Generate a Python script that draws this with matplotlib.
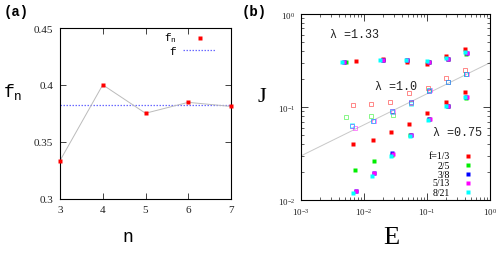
import matplotlib
matplotlib.use("Agg")
import matplotlib.pyplot as plt
from matplotlib.ticker import LogLocator, NullFormatter, FixedLocator

plt.rcParams['font.family'] = ['Liberation Serif', 'DejaVu Serif']
plt.rcParams['mathtext.fontset'] = 'custom'
plt.rcParams['mathtext.it'] = 'Liberation Mono'
plt.rcParams['mathtext.rm'] = 'Liberation Serif'

# ---------------- panel (a) data ----------------
n_vals = [3, 4, 5, 6, 7]
fn_vals = [0.3333, 0.4000, 0.3750, 0.3846, 0.3810]
f_limit = 0.382

# ---------------- panel (b) data ----------------
f_labels = ["f=1/3", "2/5", "3/8", "5/13", "8/21"]
f_colors = ["#ff0000", "#00ee00", "#0000ff", "#ff00ff", "#00ffff"]

# lambda = 1.33 (filled squares, top band)
E133 = [
    [0.0075, 0.0197, 0.0484, 0.101, 0.201, 0.397],
    [0.0051, 0.0197, 0.0484, 0.109, 0.219, 0.422],
    [0.00486, 0.0197, 0.0484, 0.109, 0.219, 0.432],
    [0.00486, 0.0197, 0.0484, 0.109, 0.219, 0.432],
    [0.00452, 0.0179, 0.0456, 0.0982, 0.203, 0.397],
]
J133 = [
    [0.316, 0.326, 0.305, 0.290, 0.350, 0.420],
    [0.303, 0.318, 0.318, 0.303, 0.329, 0.369],
    [0.308, 0.318, 0.318, 0.303, 0.329, 0.381],
    [0.308, 0.318, 0.318, 0.303, 0.329, 0.381],
    [0.308, 0.318, 0.324, 0.310, 0.334, 0.388],
]

# lambda = 1.0 (open squares, middle band)
E10 = [
    [0.00675, 0.0127, 0.0261, 0.0515, 0.1042, 0.203, 0.397],
    [0.00517, 0.0127, 0.0284, 0.0567, 0.1081, 0.216, 0.422],
    [0.00635, 0.01384, 0.0277, 0.0567, 0.1081, 0.216, 0.422],
    [0.0071, 0.01435, 0.0284, 0.0567, 0.110, 0.219, 0.432],
    [0.00635, 0.01384, 0.0277, 0.0553, 0.1081, 0.214, 0.422],
]
J10 = [
    [0.1064, 0.108, 0.1146, 0.142, 0.159, 0.206, 0.251],
    [0.0791, 0.0811, 0.0817, 0.110, 0.152, 0.186, 0.228],
    [0.0633, 0.0716, 0.0902, 0.1127, 0.1503, 0.188, 0.229],
    [0.0603, 0.0711, 0.088, 0.111, 0.153, 0.186, 0.227],
    [0.0640, 0.0716, 0.089, 0.107, 0.152, 0.186, 0.229],
]

# lambda = 0.75 (filled squares, lower band)
E075 = [
    [0.00675, 0.01368, 0.0267, 0.0527, 0.1016, 0.203, 0.397],
    [0.00717, 0.0142, 0.028, 0.054, 0.107, 0.213, 0.422],
    [0.0074, 0.0143, 0.028, 0.0553, 0.107, 0.216, 0.422],
    [0.00735, 0.01435, 0.0284, 0.0567, 0.110, 0.219, 0.432],
    [0.0068, 0.01352, 0.0264, 0.0534, 0.103, 0.203, 0.397],
]
J075 = [
    [0.0399, 0.0445, 0.0541, 0.0665, 0.0866, 0.1146, 0.1466],
    [0.0210, 0.0262, 0.031, 0.050, 0.074, 0.103, 0.125],
    [0.0127, 0.0195, 0.0319, 0.0507, 0.0746, 0.1038, 0.1297],
    [0.0127, 0.0195, 0.0312, 0.0503, 0.074, 0.102, 0.128],
    [0.0121, 0.0181, 0.0299, 0.0491, 0.0728, 0.1038, 0.1297],
]

line_E = [1e-3, 1.0]
line_J = [0.03, 0.30]

lam_texts = ["\u03bb =1.33", "\u03bb =1.0", "\u03bb =0.75"]
lam_pos = [(0.0029, 0.61), (0.015, 0.17), (0.124, 0.054)]

fig = plt.figure(figsize=(4.98, 2.55), dpi=100)

# ---------------- panel (a) ----------------
axa = fig.add_axes([60/498, 1-199.5/255, 171/498, 170.5/255])
axa.plot(n_vals, fn_vals, color="#bbbbbb", lw=0.7, zorder=2)
axa.plot(n_vals, fn_vals, ls="none", marker="s", ms=3.2, color="#ff0000",
         mec="none", zorder=3, clip_on=False)
axa.plot([n_vals[0], n_vals[-1]], [f_limit, f_limit], color="#6a6aff",
         lw=0.9, ls=(0, (1.2, 1.2)), zorder=1)
axa.set_xlim(3, 7)
axa.set_ylim(0.3, 0.45)
axa.xaxis.set_major_locator(FixedLocator([3, 4, 5, 6, 7]))
axa.yaxis.set_major_locator(FixedLocator([0.3, 0.35, 0.4, 0.45]))
axa.set_yticklabels(["0.3", "0.35", "0.4", "0.45"])
axa.tick_params(direction="in", length=4, width=0.6, labelsize=8,
                top=True, right=True, pad=5, colors="#222222")
for s in axa.spines.values():
    s.set_linewidth(0.8)
# legend (a)
axa.text(0.684, 0.945, "$f_n$", transform=axa.transAxes, ha="right",
         va="center", fontsize=8)
axa.plot([0.819], [0.941], transform=axa.transAxes, ls="none", marker="s",
         ms=3.2, color="#ff0000", mec="none", clip_on=False)
axa.text(0.684, 0.871, "$f$", transform=axa.transAxes, ha="right",
         va="center", fontsize=8)
axa.plot([0.719, 0.912], [0.871, 0.871], transform=axa.transAxes,
         color="#6a6aff", lw=0.9, ls=(0, (1.2, 1.2)))

fig.text(13/498, 1-92/255, "$f_n$", fontsize=13, ha="center", va="center")
fig.text(128/498, 1-238/255, "n", fontsize=13, ha="center", va="center",
         family="Liberation Mono")
fig.text(16/498, 1-12/255, "(a)", fontsize=10, ha="center", va="center",
         family="Liberation Mono", weight="bold")

# ---------------- panel (b) ----------------
axb = fig.add_axes([301/498, 1-201.3/255, 189/498, 186.3/255])
axb.set_xscale("log")
axb.set_yscale("log")
axb.plot(line_E, line_J, color="#c8c8c8", lw=0.7, zorder=1)
for i in range(len(f_labels)):
    c = f_colors[i]
    axb.plot(E133[i], J133[i], ls="none", marker="s", ms=3.3, color=c,
             mec="none", zorder=3 + i)
    axb.plot(E10[i], J10[i], ls="none", marker="s", ms=3.5, mfc="none",
             mec=c, mew=0.6, alpha=0.55, zorder=3 + i)
    axb.plot(E075[i], J075[i], ls="none", marker="s", ms=3.3, color=c,
             mec="none", zorder=3 + i)
axb.set_xlim(1e-3, 1)
axb.set_ylim(1e-2, 1)
for ax_ in (axb.xaxis, axb.yaxis):
    ax_.set_major_locator(LogLocator(base=10, numticks=10))
    ax_.set_minor_locator(LogLocator(base=10, subs=range(2, 10), numticks=10))
    ax_.set_minor_formatter(NullFormatter())
axb.tick_params(which="major", direction="in", length=5, width=0.6,
                labelsize=6.5, top=True, right=True, pad=4, colors="#222222")
axb.tick_params(which="minor", direction="in", length=2.5, width=0.5,
                top=True, right=True, colors="#222222")
for s in axb.spines.values():
    s.set_linewidth(0.8)
for t, (x, y) in zip(lam_texts, lam_pos):
    axb.text(x, y, t, fontsize=8.5, ha="left", va="center",
             family="Liberation Mono", color="#222222")
# legend (b)
leg_y = [0.238, 0.189, 0.141, 0.093, 0.043]
for i in range(len(f_labels)):
    axb.text(0.788, leg_y[i], f_labels[i], transform=axb.transAxes,
             ha="right", va="center", fontsize=7)
    axb.plot([0.884], [leg_y[i]], transform=axb.transAxes, ls="none",
             marker="s", ms=3.3, color=f_colors[i], mec="none", clip_on=False)

fig.text(262/498, 1-98/255, "J", fontsize=16, ha="center", va="center")
fig.text(391/498, 1-238/255, "E", fontsize=19, ha="center", va="center")
fig.text(254/498, 1-12/255, "(b)", fontsize=10, ha="center", va="center",
         family="Liberation Mono", weight="bold")

fig.savefig("out.png", dpi=100)
